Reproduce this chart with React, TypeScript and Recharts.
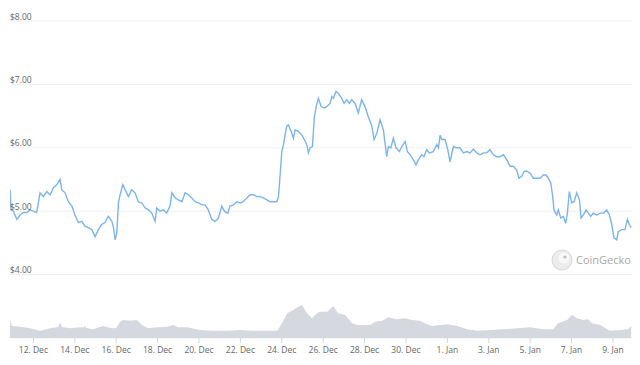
import { ComposedChart, Line, Area, XAxis, YAxis, CartesianGrid } from "recharts"

// x values are days counted from 12 Dec, 00:00
const dayTicks = [0, 2, 4, 6, 8, 10, 12, 14, 16, 18, 20, 22, 24, 26, 28]
const dayLabels = [
  "12. Dec", "14. Dec", "16. Dec", "18. Dec", "20. Dec", "22. Dec", "24. Dec",
  "26. Dec", "28. Dec", "30. Dec", "1. Jan", "3. Jan", "5. Jan", "7. Jan", "9. Jan",
]
const priceTicks = [4, 5, 6, 7, 8]

const priceDays = [
  -1.13, -1.08, -0.97, -0.8, -0.64, -0.48, -0.32, -0.16, 0.0, 0.16,
  0.24, 0.32, 0.48, 0.65, 0.81, 0.97, 1.13, 1.29, 1.37, 1.53,
  1.69, 1.86, 2.01, 2.17, 2.34, 2.5, 2.66, 2.82, 2.98, 3.14,
  3.3, 3.46, 3.62, 3.79, 3.86, 3.95, 4.03, 4.11, 4.19, 4.32,
  4.43, 4.59, 4.75, 4.91, 5.07, 5.24, 5.4, 5.56, 5.72, 5.88,
  5.96, 6.12, 6.28, 6.44, 6.6, 6.69, 6.85, 7.0, 7.17, 7.33,
  7.49, 7.65, 7.81, 7.97, 8.14, 8.29, 8.45, 8.62, 8.78, 8.94,
  9.1, 9.23, 9.39, 9.5, 9.66, 9.83, 9.99, 10.14, 10.31, 10.47,
  10.63, 10.79, 10.95, 11.11, 11.28, 11.43, 11.59, 11.76, 11.84, 11.92,
  12.0, 12.08, 12.16, 12.24, 12.32, 12.45, 12.56, 12.64, 12.8, 12.97,
  13.09, 13.21, 13.29, 13.37, 13.48, 13.57, 13.66, 13.77, 13.9, 14.06,
  14.17, 14.33, 14.42, 14.49, 14.62, 14.73, 14.9, 15.01, 15.14, 15.27,
  15.38, 15.54, 15.7, 15.86, 16.02, 16.18, 16.35, 16.46, 16.59, 16.75,
  16.91, 16.99, 17.07, 17.15, 17.27, 17.39, 17.52, 17.68, 17.8, 17.96,
  18.07, 18.2, 18.36, 18.48, 18.6, 18.76, 18.87, 19.0, 19.13, 19.32,
  19.49, 19.57, 19.65, 19.73, 19.89, 20.02, 20.13, 20.29, 20.45, 20.61,
  20.77, 20.94, 21.1, 21.26, 21.42, 21.58, 21.74, 21.9, 22.06, 22.22,
  22.39, 22.54, 22.71, 22.87, 23.03, 23.19, 23.35, 23.46, 23.59, 23.72,
  23.84, 24.0, 24.15, 24.32, 24.48, 24.64, 24.77, 24.88, 25.0, 25.09,
  25.15, 25.28, 25.36, 25.48, 25.6, 25.72, 25.8, 25.89, 26.01, 26.12,
  26.25, 26.38, 26.46, 26.57, 26.7, 26.81, 26.93, 27.05, 27.22, 27.38,
  27.54, 27.7, 27.83, 27.94, 28.05, 28.18, 28.26, 28.43, 28.58, 28.7,
  28.79, 28.88,
]

const prices = [
  5.34, 5.02, 5.0, 4.87, 4.94, 4.98, 4.98, 5.02, 5.0, 4.98,
  5.13, 5.29, 5.23, 5.31, 5.26, 5.37, 5.42, 5.5, 5.34, 5.29,
  5.15, 5.08, 4.94, 4.82, 4.84, 4.76, 4.74, 4.71, 4.6, 4.71,
  4.79, 4.82, 4.92, 4.84, 4.76, 4.55, 4.66, 5.13, 5.26, 5.42,
  5.34, 5.23, 5.34, 5.29, 5.15, 5.13, 5.05, 5.02, 4.97, 4.84,
  5.05, 5.0, 5.02, 4.97, 5.08, 5.29, 5.21, 5.18, 5.15, 5.29,
  5.26, 5.21, 5.15, 5.13, 5.1, 5.1, 5.02, 4.87, 4.84, 4.89,
  5.08, 5.0, 4.97, 5.08, 5.1, 5.15, 5.13, 5.15, 5.21, 5.26,
  5.26, 5.23, 5.23, 5.21, 5.18, 5.15, 5.15, 5.15, 5.23, 5.57,
  5.94, 6.05, 6.2, 6.34, 6.36, 6.26, 6.15, 6.28, 6.26, 6.2,
  6.13, 6.05, 5.92, 6.0, 6.02, 6.47, 6.65, 6.78, 6.65, 6.63,
  6.65, 6.7, 6.81, 6.78, 6.89, 6.86, 6.78, 6.7, 6.76, 6.7,
  6.76, 6.7, 6.55, 6.76, 6.65, 6.49, 6.34, 6.13, 6.23, 6.44,
  6.28, 6.07, 5.86, 6.02, 6.0, 6.15, 6.0, 5.94, 6.02, 6.1,
  5.94, 5.89, 5.81, 5.73, 5.81, 5.89, 5.86, 5.97, 5.92, 5.94,
  6.05, 6.0, 6.2, 6.13, 6.13, 5.97, 5.78, 6.02, 6.0, 6.0,
  5.92, 5.94, 5.92, 5.98, 5.92, 5.89, 5.92, 5.92, 5.97, 5.89,
  5.86, 5.86, 5.89, 5.81, 5.71, 5.71, 5.65, 5.52, 5.55, 5.63,
  5.63, 5.6, 5.52, 5.52, 5.52, 5.57, 5.57, 5.52, 5.44, 5.23,
  5.02, 4.94, 5.02, 4.89, 4.92, 4.81, 4.97, 5.31, 5.13, 5.15,
  5.29, 5.18, 4.89, 4.94, 5.02, 4.97, 4.92, 4.97, 4.94, 4.97,
  4.97, 5.02, 4.94, 4.79, 4.58, 4.55, 4.68, 4.71, 4.71, 4.87,
  4.79, 4.74,
]

const volumeDays = [
  -1.13, -1.03, -0.64, -0.16, 0.32, 0.81, 1.2, 1.29, 1.38, 1.77,
  2.26, 2.45, 2.5, 2.55, 2.88, 3.37, 3.8, 4.0, 4.19, 4.33,
  4.67, 5.01, 5.25, 5.54, 5.98, 6.46, 6.75, 6.99, 7.43, 7.67,
  8.05, 8.68, 9.36, 10.0, 10.63, 11.29, 11.78, 12.01, 12.26, 12.55,
  12.79, 12.98, 13.22, 13.46, 13.7, 13.85, 14.19, 14.48, 14.72, 15.06,
  15.4, 15.69, 16.27, 16.51, 16.85, 17.14, 17.57, 17.96, 18.29, 18.68,
  18.92, 19.26, 19.65, 20.03, 20.47, 20.95, 21.43, 22.06, 22.69, 23.37,
  24.0, 24.63, 25.11, 25.35, 25.78, 26.02, 26.27, 26.56, 26.8, 26.99,
  27.38, 27.86, 28.34, 28.72, 28.88,
]

// relative trading volume
const volumes = [
  18, 12, 11.3, 9.7, 7.3, 9.7, 11, 16, 11, 9.7,
  10.7, 10.5, 13, 10, 8.7, 12, 9.7, 10, 16.3, 18,
  17.3, 18, 13, 9.7, 10.7, 11.3, 13, 10.7, 10.7, 9.7,
  8, 7.3, 7.3, 8, 7.3, 7.3, 7.3, 14.7, 24.7, 28,
  31.3, 33, 24.7, 19.7, 24.7, 26.3, 26.3, 32, 24.7, 23,
  14.7, 13, 13, 16.3, 17.3, 20.7, 18.7, 19.7, 18, 17.3,
  14.7, 12, 13, 13.7, 12, 8.7, 7.3, 8, 8.7, 9.7,
  10.7, 8.7, 8.7, 14.7, 18, 23, 19.7, 18, 18.7, 14.7,
  13, 7.3, 8, 8.7, 12,
]

const priceData = priceDays.map((day, i) => ({ day, price: prices[i] }))
const volumeData = volumeDays.map((day, i) => ({ day, volume: volumes[i] }))

const labelFont = "'Open Sans', 'DejaVu Sans', sans-serif"

function PriceTick(props: any) {
  const { y, payload } = props
  return (
    <text x={10} y={y} dy={-1.5} fill="#666" fontSize={8.5} textAnchor="start">
      {"$" + Number(payload.value).toFixed(2)}
    </text>
  )
}

function Watermark() {
  return (
    <svg
      width={640}
      height={365}
      style={{ position: "absolute", left: 0, top: 0, pointerEvents: "none" }}
    >
      <circle cx={562} cy={260} r={10} fill="#ececec" stroke="#d6d6d6" strokeWidth={1} />
      <circle cx={564} cy={258} r={5.5} fill="#f7f7f7" />
      <circle cx={565} cy={257} r={1.6} fill="#bdbdbd" />
      <text x={576} y={264} fill="#a9a9a9" fontSize={11} fontFamily={labelFont}>
        CoinGecko
      </text>
    </svg>
  )
}

export default function App() {
  return (
    <div
      style={{
        position: "absolute",
        left: 0,
        top: 0,
        width: 640,
        height: 365,
        background: "#fff",
        fontFamily: labelFont,
      }}
    >
      <ComposedChart
        width={640}
        height={365}
        margin={{ top: 21, right: 8, left: 9, bottom: 0 }}
      >
        <CartesianGrid yAxisId="price" vertical={false} stroke="#efefef" />
        <XAxis
          dataKey="day"
          type="number"
          domain={[-1.13, 28.92]}
          allowDataOverflow
          ticks={dayTicks}
          tickFormatter={(v: number) => dayLabels[dayTicks.indexOf(v)]}
          height={27}
          axisLine={false}
          tickLine={{ stroke: "#ccd6eb" }}
          tickSize={5}
          tickMargin={4}
          tick={{ fill: "#666", fontSize: 8.5 }}
          interval={0}
        />
        <YAxis
          yAxisId="price"
          domain={[3, 8]}
          ticks={priceTicks}
          allowDataOverflow
          width={1}
          axisLine={false}
          tickLine={false}
          interval={0}
          tick={(p: any) => <PriceTick {...p} />}
        />
        <YAxis yAxisId="volume" orientation="right" domain={[0, 317]} allowDataOverflow hide />
        <Area
          yAxisId="volume"
          data={volumeData}
          dataKey="volume"
          type="linear"
          stroke="none"
          fill="#d5d8df"
          fillOpacity={1}
          isAnimationActive={false}
        />
        <Line
          yAxisId="price"
          data={priceData}
          dataKey="price"
          type="linear"
          stroke="#7cb5ec"
          strokeWidth={1.4}
          dot={false}
          activeDot={false}
          isAnimationActive={false}
        />
      </ComposedChart>
      <Watermark />
    </div>
  )
}
